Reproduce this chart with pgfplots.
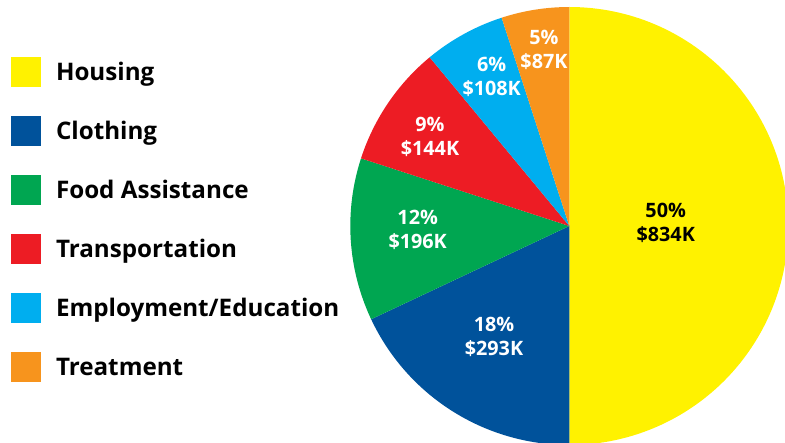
\documentclass[border=0pt]{standalone}
\usepackage{pgfplots}
\pgfplotsset{compat=1.18}
\usepackage{pgfplotstable}
\usepackage{fontspec}
\setmainfont{Open Sans}
\definecolor{cHousing}{HTML}{FFF200}
\definecolor{cClothing}{HTML}{00529B}
\definecolor{cFood}{HTML}{00A651}
\definecolor{cTransport}{HTML}{ED1C24}
\definecolor{cEmploy}{HTML}{00AEEF}
\definecolor{cTreat}{HTML}{F7941D}
\newcommand\slicefont{\fontsize{19.8}{23.7}\selectfont\bfseries}
\newcommand\legfont{\fontsize{24.2}{29}\selectfont\bfseries}
% name, percent, amount (K$), label x, label y (pixels from top-left), fill, text colour
\pgfplotstableread[col sep=comma]{
name,pct,amount,lx,ly,col,tcol
Housing,50,834,665.7,223,cHousing,black
Clothing,18,293,494,337,cClothing,white
Food Assistance,12,196,417.7,230,cFood,white
Transportation,9,144,430,137,cTransport,white
Employment/Education,6,108,491.7,77,cEmploy,white
Treatment,5,87,544,50,cTreat,white
}\piedata
\begin{document}
\begin{tikzpicture}
\begin{axis}[
  width=785pt, height=443pt, scale only axis,
  xmin=0, xmax=785, ymin=0, ymax=443, y dir=reverse,
  hide axis, clip=true,
  legend image code/.code={\fill[#1] (0pt,-15pt) rectangle (30pt,15pt);},
  legend cell align=left,
  legend style={at={(axis cs:11,56.7)}, anchor=north west, draw=none, fill=none,
    inner sep=0pt, outer sep=0pt, row sep=29pt,
    nodes={font=\legfont, inner sep=0pt, outer sep=0pt, text height=24pt, text depth=6pt},
    /tikz/every odd column/.append style={column sep=15pt}},
]
\pgfplotstablegetrowsof{\piedata}
\pgfmathtruncatemacro\nrows{\pgfplotsretval-1}
\def\cum{90}
\pgfplotsforeachungrouped \i in {0,...,\nrows}{%
  \pgfplotstablegetelem{\i}{name}\of\piedata \let\nm\pgfplotsretval
  \pgfplotstablegetelem{\i}{pct}\of\piedata \let\pct\pgfplotsretval
  \pgfplotstablegetelem{\i}{amount}\of\piedata \let\amt\pgfplotsretval
  \pgfplotstablegetelem{\i}{lx}\of\piedata \let\lx\pgfplotsretval
  \pgfplotstablegetelem{\i}{ly}\of\piedata \let\ly\pgfplotsretval
  \pgfplotstablegetelem{\i}{col}\of\piedata \let\col\pgfplotsretval
  \pgfplotstablegetelem{\i}{tcol}\of\piedata \let\tcol\pgfplotsretval
  \pgfmathsetmacro\endang{\cum-3.6*\pct}
  \edef\temp{\noexpand\fill[\col] (axis cs:569.3,226) -- ([shift={(\cum:219pt)}]axis cs:569.3,226) arc[start angle=\cum, end angle=\endang, radius=219pt] -- cycle;}
  \temp
  \edef\temp{\noexpand\node[text=\tcol, align=center, font=\noexpand\slicefont, inner sep=0pt] at (axis cs:\lx,\ly) {\pct\noexpand\%\noexpand\\\noexpand\$\amt K};}
  \temp
  \edef\temp{\noexpand\addlegendimage{fill=\col, draw=none}\noexpand\addlegendentry{\nm}}
  \temp
  \let\cum\endang
}
\end{axis}
\pgfresetboundingbox
\path[use as bounding box] (current axis.south west) rectangle (current axis.north east);
\end{tikzpicture}
\end{document}
